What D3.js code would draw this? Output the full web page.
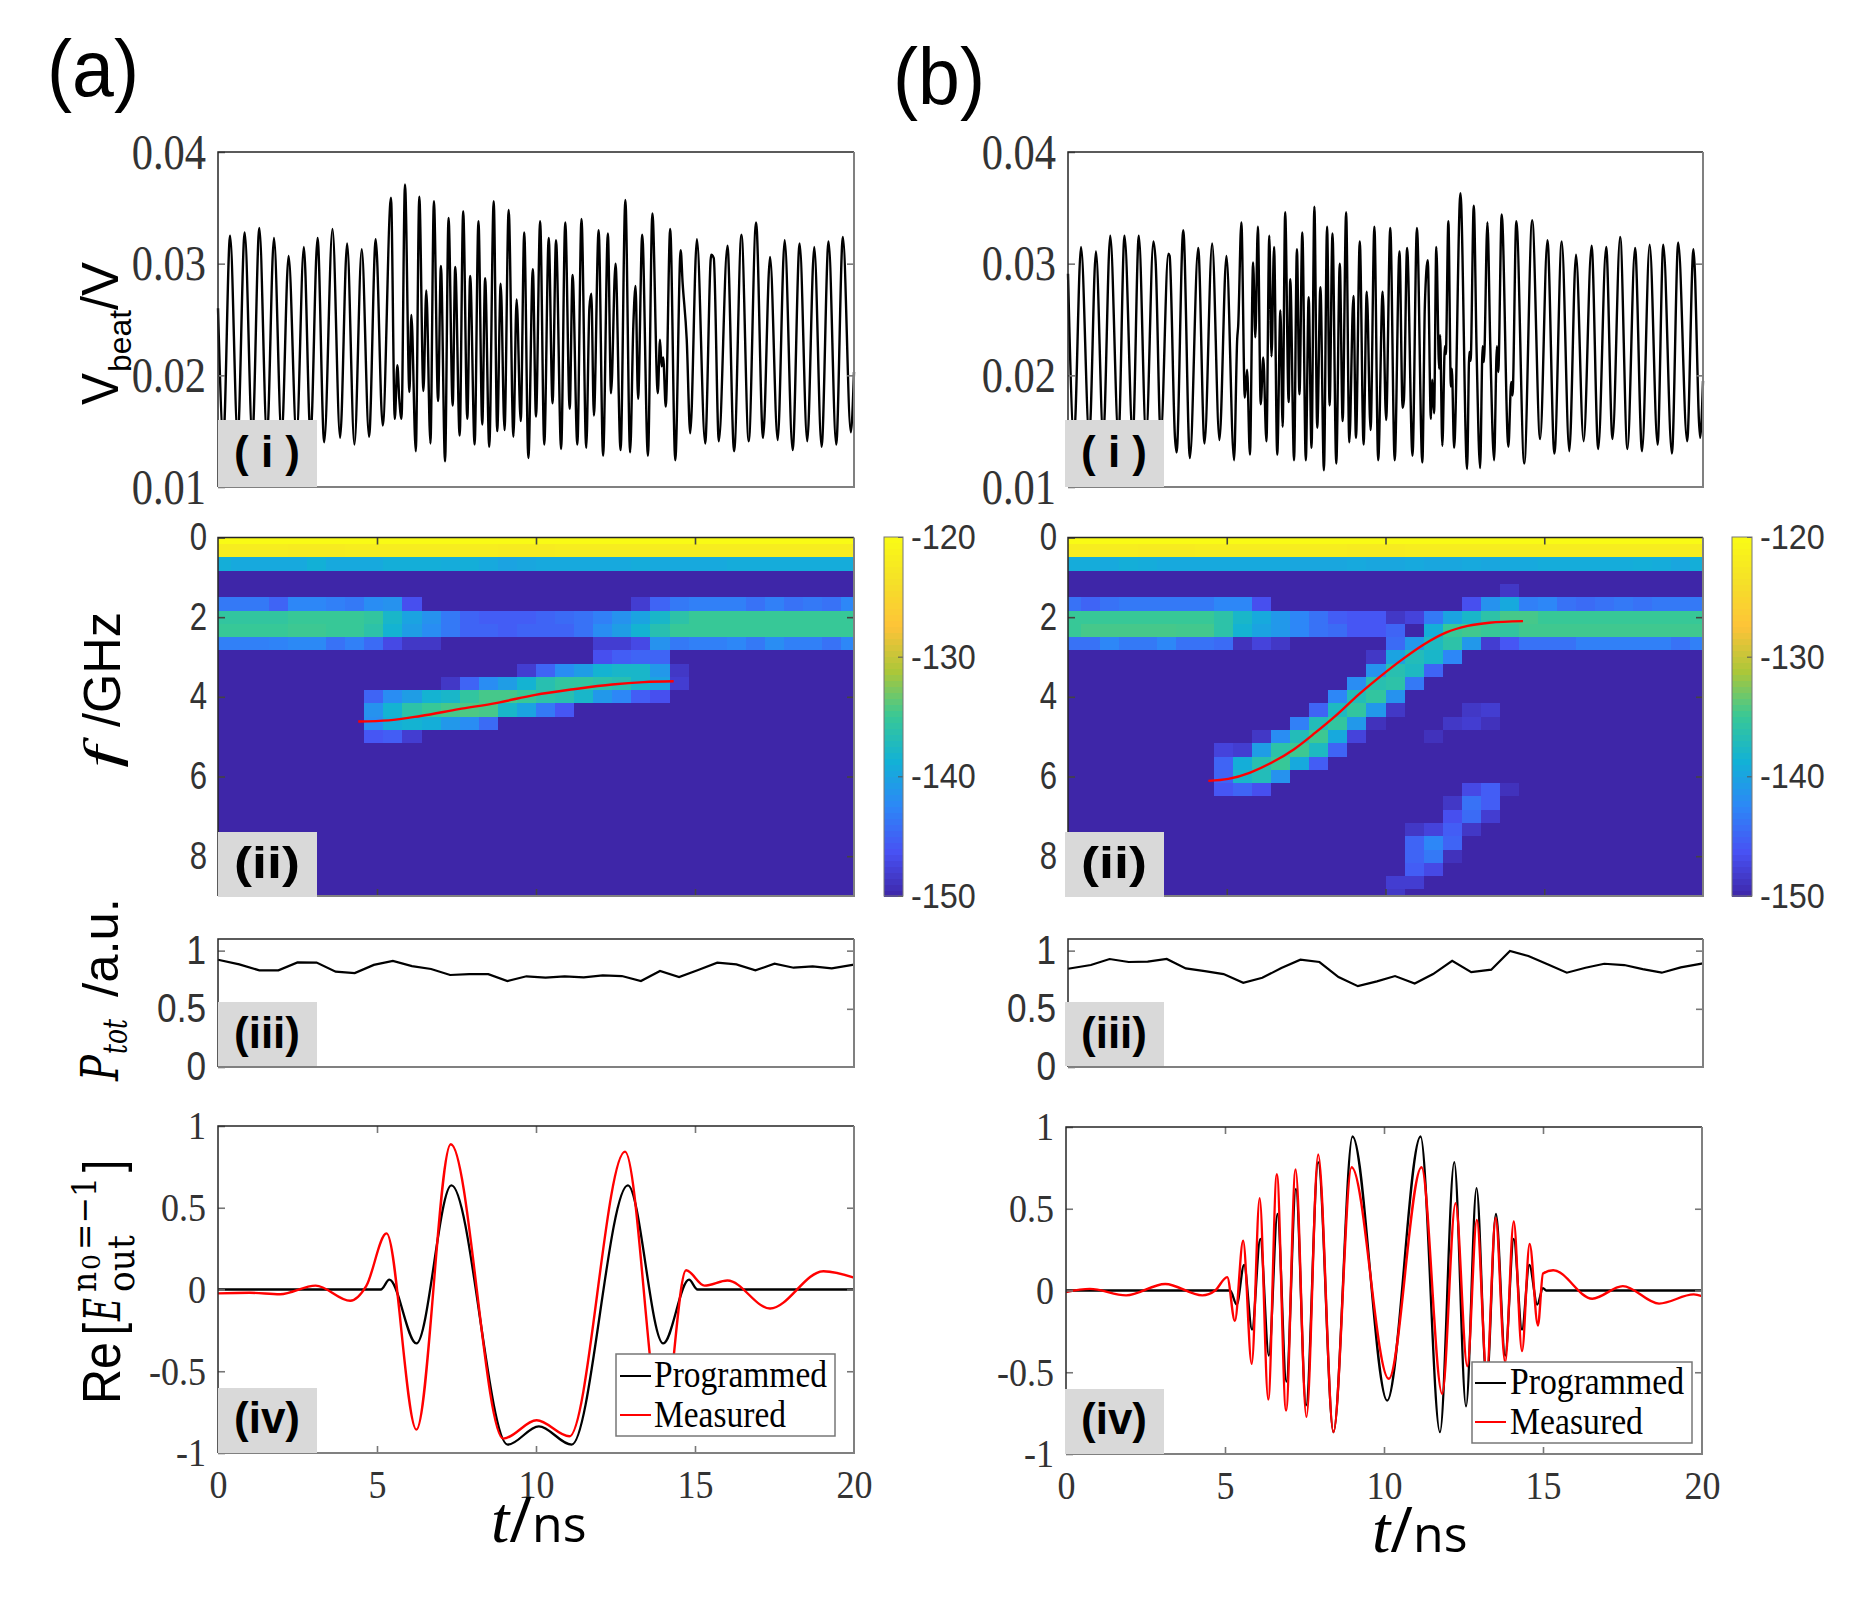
<!DOCTYPE html>
<html>
<head>
<meta charset="utf-8">
<script src="https://cdn.jsdelivr.net/npm/d3@7"></script>
<style>
  html, body { margin: 0; padding: 0; background: #fff; }
  svg { display: block; }
</style>
</head>
<body>
<svg id="chart" width="1853" height="1603"></svg>
<script>
// (i) beat signal, turning points: [t in ns, V in mV]
const beatA = [[0,26.0],[.17,14.5],[.38,32.5],[.62,14.5],[.84,32.8],[1.08,14.5],[1.30,33.2],[1.54,14.5],[1.76,32.3],[2.00,14.5],[2.22,30.7],[2.47,14.5],[2.70,31.5],[2.91,14.5],[3.13,32.3],[3.34,14.0],[3.60,33.1],[3.84,14.4],[4.06,31.8],[4.29,13.8],[4.52,31.3],[4.75,14.5],[4.96,32.2],[5.18,15.5],[5.44,35.9],[5.56,16.1],[5.64,20.9],[5.70,17.9],[5.77,16.1],[5.88,37.1],[6.02,18.5],[6.08,25.4],[6.22,13.2],[6.33,36.0],[6.46,18.6],[6.55,27.6],[6.68,13.9],[6.79,35.6],[6.92,17.7],[7.01,29.8],[7.14,12.3],[7.25,34.1],[7.38,17.3],[7.46,29.7],[7.60,14.6],[7.71,34.7],[7.84,16.1],[7.93,28.9],[8.07,13.8],[8.19,33.8],[8.31,15.6],[8.40,28.7],[8.53,13.6],[8.67,35.6],[8.78,15.0],[8.89,28.2],[9.01,15.1],[9.14,34.8],[9.29,14.5],[9.39,26.8],[9.52,15.9],[9.63,32.8],[9.76,12.6],[9.90,29.5],[10.0,16.3],[10.13,33.8],[10.26,13.8],[10.40,32.3],[10.52,17.5],[10.63,32.1],[10.79,13.4],[10.92,33.7],[11.06,17.0],[11.15,29.0],[11.30,13.8],[11.43,34.0],[11.58,13.5],[11.68,26.1],[11.74,27.3],[11.82,16.4],[11.97,33.0],[12.11,12.8],[12.26,32.7],[12.36,18.4],[12.50,30.0],[12.66,13.3],[12.81,35.7],[12.96,13.1],[13.06,24.4],[13.13,28.0],[13.21,17.9],[13.34,32.6],[13.52,12.8],[13.66,34.5],[13.83,18.4],[13.90,23.2],[13.95,20.8],[14.0,21.6],[14.08,17.2],[14.22,33.1],[14.38,12.4],[14.55,31.2],[14.61,28.3],[14.74,23.2],[14.85,14.8],[15.06,32.2],[15.32,13.9],[15.51,30.8],[15.59,30.5],[15.75,14.1],[16.02,31.6],[16.23,13.2],[16.46,32.6],[16.69,14.1],[16.92,33.7],[17.14,14.4],[17.36,30.6],[17.60,14.2],[17.82,32.1],[18.07,13.3],[18.29,31.8],[18.53,14.1],[18.75,31.5],[18.98,13.6],[19.20,32.0],[19.44,13.8],[19.65,32.4],[19.90,14.9],[20,20.3]];
const beatB = [[0,29.1],[.19,14.5],[.41,31.5],[.67,14.5],[.88,31.1],[1.11,14.5],[1.33,32.5],[1.59,14.5],[1.78,32.5],[2.04,14.5],[2.23,32.5],[2.46,14.5],[2.69,32.0],[2.76,30.2],[2.92,14.5],[3.16,30.9],[3.20,30.7],[3.37,14.4],[3.42,13.1],[3.63,33.0],[3.84,12.6],[4.10,31.4],[4.30,13.9],[4.54,31.8],[4.77,14.2],[4.99,30.7],[5.23,12.4],[5.33,23.3],[5.36,24.4],[5.46,33.7],[5.57,18.0],[5.64,20.5],[5.73,12.9],[5.83,30.1],[5.90,23.4],[5.98,33.3],[6.07,17.4],[6.15,21.6],[6.25,14.1],[6.34,32.5],[6.41,21.7],[6.49,31.5],[6.59,12.9],[6.69,25.8],[6.76,15.4],[6.84,34.6],[6.95,17.6],[7.00,28.6],[7.12,12.4],[7.21,31.3],[7.29,18.3],[7.38,32.8],[7.49,12.4],[7.58,27.0],[7.67,13.5],[7.76,35.1],[7.85,15.3],[7.95,27.9],[8.06,11.5],[8.16,33.3],[8.24,17.3],[8.33,32.7],[8.45,12.1],[8.56,30.0],[8.65,15.9],[8.76,34.6],[8.86,14.0],[8.99,27.1],[9.07,14.4],[9.19,32.0],[9.31,13.8],[9.41,27.5],[9.53,15.1],[9.65,33.3],[9.77,12.4],[9.91,27.5],[10.02,16.0],[10.15,33.2],[10.29,12.4],[10.44,31.1],[10.54,17.1],[10.58,17.8],[10.68,31.4],[10.85,12.8],[10.99,33.2],[11.16,12.2],[11.24,26.3],[11.33,30.3],[11.43,16.1],[11.47,19.6],[11.53,16.6],[11.60,31.5],[11.69,20.6],[11.72,23.6],[11.79,13.7],[11.87,22.6],[11.90,21.9],[11.98,33.8],[12.06,19.0],[12.09,20.6],[12.16,13.5],[12.36,36.3],[12.57,11.6],[12.64,22.1],[12.68,21.3],[12.78,35.2],[12.87,22.1],[12.98,11.7],[13.06,22.6],[13.10,21.2],[13.21,33.7],[13.30,22.7],[13.42,12.4],[13.51,22.6],[13.55,20.3],[13.66,34.4],[13.87,13.6],[13.96,19.4],[14.0,18.2],[14.12,33.8],[14.37,12.1],[14.62,33.9],[14.87,14.3],[15.10,32.1],[15.32,13.0],[15.55,32.0],[15.79,13.2],[16.0,30.8],[16.24,14.1],[16.49,31.6],[16.70,13.4],[16.95,31.5],[17.15,14.3],[17.39,32.4],[17.62,13.4],[17.86,31.4],[18.08,13.2],[18.32,31.7],[18.57,13.8],[18.75,31.7],[19.02,13.0],[19.22,31.9],[19.50,14.1],[19.70,31.3],[19.91,14.4],[20,19.5]];

// (ii) spectrogram, cell edges and the cells above the -150 floor: [row, first column, dB values]
const timeEdges = [0,.4,1,1.6,2.2,2.8,3.4,4,4.6,5.2,5.8,6.4,7,7.6,8.2,8.8,9.4,10,10.6,11.2,11.8,12.4,13,13.6,14.2,14.8,15.4,16,16.6,17.2,17.8,18.4,19,19.6,20];
const freqEdges = [0,.167,.5,.833,1.167,1.5,1.833,2.167,2.5,2.833,3.167,3.5,3.833,4.167,4.5,4.833,5.167,5.5,5.833,6.167,6.5,6.833,7.167,7.5,7.833,8.167,8.5,8.833,9];
const topRow = [-120,-120,-120,-120,-120,-120,-120,-120,-120,-120,-120,-120,-120,-120,-120,-120,-120,-120,-120,-120,-120,-120,-120,-120,-120,-120,-120,-120,-120,-120,-120,-120,-120,-120];
const yellowRow = [-122,-122,-122,-122,-122.2,-122.2,-122.2,-122,-122,-122,-122,-122,-122,-122,-122,-122.2,-122.2,-122.2,-122,-122,-122,-122,-122,-122,-122,-122,-122,-122,-122,-122,-122,-122,-122,-122];
const tealRowA = [-139,-139.5,-139.5,-139.5,-139.5,-138.8,-139.5,-139.5,-139.5,-139,-139,-139,-139.2,-139,-139.5,-140,-139.7,-139.5,-139.5,-139.5,-139.5,-139.5,-139.2,-139.5,-139.5,-139.5,-139.5,-139.2,-139.2,-139.2,-139.2,-139.2,-139.2,-139.2];
const tealRowB = [-139.2,-139.2,-139.5,-139,-139.2,-139.5,-139.5,-139.5,-139.5,-139.5,-139.5,-139.5,-139.7,-139.7,-139.7,-139.5,-139.7,-139.7,-139.5,-139.7,-139.7,-139.5,-139.7,-139.5,-139.5,-139.2,-139.2,-139.2,-139.2,-139.2,-139,-139.2,-139.7,-139];
const cellsA = [
  [5,0,[-143.5,-143.5,-143.5,-145,-142.5,-142.5,-143,-143.5,-142,-141.5,-146.5]],
  [5,22,[-148,-145,-143.5,-143,-143,-143,-144,-143,-144,-143.5,-144,-142.5]],
  [6,0,[-135.5,-135.5,-135.5,-135.5,-135,-135,-135,-135,-135.5,-138,-140,-141.5,-143.5,-145,-145.5,-145.5,-145.5,-145,-144.5,-144,-143,-141.5,-140,-138,-136,-135,-135,-135,-135,-135,-135,-135,-135,-135]],
  [7,0,[-135,-135,-135,-135,-134.8,-134.8,-135,-135,-136,-138.5,-140.5,-142,-143.5,-145,-145,-145.5,-145,-145,-145,-144,-142,-140.5,-138.5,-136.5,-135,-135,-135,-135,-135,-135,-135,-135,-135,-135]],
  [8,0,[-143,-143,-143,-142.8,-142.3,-142.3,-144,-143,-144.5,-147,-148.5,-148.5]],
  [8,20,[-148,-148,-147,-141.5,-143.5,-143,-143,-142.5,-143.5,-142,-143,-143,-144,-142.5]],
  [9,20,[-146.5,-145.5,-145,-145]],
  [10,16,[-148,-145,-142,-140.5,-138.5,-138,-138,-141,-148.5]],
  [11,12,[-148.5,-145,-142,-140.5,-138.5,-136.5,-135.5,-135.5,-136,-136.5,-138,-140,-148]],
  [12,8,[-145,-142,-140.5,-138.5,-138,-135.5,-134.5,-134.5,-135,-136,-136.5,-138,-141,-142.5,-145.5,-146.5]],
  [13,8,[-141.5,-138.5,-136,-135,-134.5,-134.3,-134.5,-138,-140,-143.5,-146]],
  [14,8,[-142,-139,-138.5,-139,-141,-142,-144.5]],
  [15,8,[-146,-145.5,-148]]
];
const cellsB = [
  [4,23,[-148.5]],
  [5,0,[-144,-145,-144,-143.5,-143.5,-143.5,-143.5,-143.5,-142.5,-142.5,-146.5]],
  [5,21,[-146.5,-141.5,-139.5,-143,-142.5,-144,-144.5,-144,-143.5,-144,-143.5,-143.5,-143.5]],
  [6,0,[-135,-135,-135,-135,-135,-135,-135,-135,-136,-138,-139.5,-141,-142.5,-144,-145.5,-146,-146,-148.5,-147.5,-143.5,-140,-138,-136,-134.5,-134.5,-135,-135,-135,-135,-135,-135,-135,-135,-135]],
  [7,0,[-135,-134.5,-134.5,-134.5,-134.5,-134.5,-134.6,-134.6,-136,-138.5,-140,-141,-142.5,-144,-144.5,-146,-146,-145,-150,-139,-135,-134.7,-135,-135.5,-134.7,-134.7,-134.7,-134.7,-134.7,-134.7,-134.7,-134.7,-134.7,-134.7]],
  [8,0,[-144,-144,-142.5,-143.5,-143.5,-142.5,-144,-144,-144.5,-149,-147.5,-148.5]],
  [8,17,[-144.5,-141,-137.5,-136,-141,-148,-146,-144,-144,-144,-143,-143,-143,-143,-143,-144,-143]],
  [9,16,[-148.5,-140,-137,-138,-142.5]],
  [10,16,[-141.5,-136.5,-137.5,-145]],
  [11,15,[-142,-136.5,-136,-143.5]],
  [12,14,[-142.5,-137,-135.5,-141.5]],
  [13,13,[-145,-137.5,-135.5,-141,-148.5]],
  [13,21,[-148.5,-148]],
  [14,12,[-143,-137,-135.5,-141,-149]],
  [14,20,[-148.5,-148,-149]],
  [15,10,[-148.5,-142,-137,-134.8,-139.5,-147.5]],
  [15,19,[-149]],
  [16,8,[-147.5,-148,-140.5,-136,-134.8,-137.5,-145]],
  [17,8,[-145,-139,-136.5,-135,-139.5,-145.5]],
  [18,8,[-145,-138,-137,-141.5]],
  [19,8,[-146,-145,-146.5]],
  [19,21,[-147,-145.5,-149]],
  [20,20,[-148.5,-144,-145.5]],
  [21,20,[-146.5,-144.5,-148]],
  [22,18,[-148.5,-147.5,-145.5,-148.5]],
  [23,18,[-145,-142.5,-145]],
  [24,18,[-145,-143.5,-149]],
  [25,18,[-145.5,-147]],
  [26,17,[-148,-148]],
  [27,17,[-148.5]]
];
// red chirp over the spectrogram: [t, GHz]
const chirpA = [[4.41,4.62],[5.37,4.59],[6.37,4.48],[7.57,4.31],[8.78,4.15],[9.98,3.95],[11.18,3.81],[12.39,3.69],[13.39,3.63],[14.33,3.61]];
const chirpB = [[4.42,6.11],[5.05,6.06],[5.74,5.90],[6.42,5.65],[7.11,5.32],[7.79,4.90],[8.48,4.44],[9.16,3.94],[9.85,3.48],[10.53,3.06],[11.22,2.68],[11.90,2.39],[12.59,2.22],[13.27,2.14],[14.33,2.10]];

// (iii) total power
const powerA = [[0,.925],[.67,.885],[1.3,.833],[1.9,.833],[2.5,.902],[3.1,.90],[3.7,.822],[4.3,.81],[4.9,.88],[5.5,.914],[6.1,.87],[6.7,.845],[7.3,.793],[7.9,.80],[8.5,.80],[9.1,.741],[9.7,.782],[10.3,.77],[10.9,.782],[11.5,.773],[12.1,.79],[12.7,.784],[13.3,.741],[13.9,.828],[14.5,.776],[15.1,.836],[15.7,.90],[16.3,.885],[16.9,.833],[17.5,.89],[18.1,.856],[18.7,.868],[19.3,.85],[20,.882]];
const powerB = [[0,.847],[.72,.879],[1.31,.931],[1.91,.905],[2.51,.908],[3.11,.931],[3.71,.85],[4.31,.827],[4.90,.801],[5.52,.726],[6.12,.769],[6.72,.853],[7.32,.925],[7.92,.905],[8.52,.775],[9.13,.697],[9.73,.738],[10.30,.784],[10.92,.72],[11.5,.801],[12.1,.916],[12.7,.818],[13.33,.839],[13.92,1.0],[14.5,.957],[15.14,.882],[15.71,.813],[16.3,.856],[16.89,.89],[17.52,.879],[18.1,.844],[18.7,.813],[19.3,.859],[20,.893]];

// (iv) programmed and measured field
const programmedA = [[0,0],[5.12,0],[5.39,.06],[6.24,-.33],[7.34,.637],[9.11,-.949],[10.09,-.837],[11.12,-.949],[12.89,.637],[14.0,-.33],[14.81,.06],[15.08,0],[20,0]];
const measuredA = [[0,-.024],[1.0,-.02],[1.95,-.029],[3.07,.024],[4.16,-.069],[4.66,.02],[5.30,.343],[6.24,-.857],[7.32,.888],[8.97,-.912],[10.02,-.80],[11.05,-.898],[12.80,.843],[13.98,-.86],[14.72,.118],[15.3,.024],[16.02,.055],[17.36,-.116],[19.04,.112],[20,.073]];
const programmedB = [[0,0],[5.16,0],[5.37,-.086],[5.60,.157],[5.85,-.239],[6.11,.316],[6.38,-.398],[6.65,.469],[6.93,-.557],[7.23,.622],[7.55,-.703],[7.93,.785],[8.41,-.866],[9.01,.942],[10.10,-.673],[11.15,.942],[11.76,-.866],[12.21,.785],[12.58,-.709],[12.91,.626],[13.23,-.56],[13.52,.469],[13.81,-.398],[14.08,.316],[14.34,-.239],[14.57,.157],[14.82,-.086],[15.0,.015],[15.1,0],[20,0]];
const measuredB = [[0,-.01],[.75,.01],[1.89,-.03],[3.12,.04],[4.29,-.03],[4.69,0],[5.07,.082],[5.31,-.186],[5.57,.304],[5.84,-.449],[6.09,.565],[6.36,-.667],[6.63,.711],[6.92,-.734],[7.22,.74],[7.56,-.773],[7.93,.832],[8.41,-.866],[8.98,.754],[10.15,-.54],[11.18,.754],[11.83,-.632],[12.25,.534],[12.62,-.463],[12.92,.432],[13.23,-.51],[13.51,.444],[13.81,-.438],[14.08,.422],[14.34,-.371],[14.58,.285],[14.84,-.214],[15.0,.104],[15.32,.124],[16.55,-.05],[17.51,.027],[18.65,-.08],[19.74,-.024],[20,-.035]];

const parulaDb = [-150,-146.25,-142.5,-138.75,-135,-131.25,-127.5,-123.75,-120];
const parulaHex = ['#3e26a8','#4852f4','#2d87f7','#12b1d6','#37c897','#abc739','#fec338','#f5e028','#f9fb15'];
const serif = '"Liberation Serif", serif';
const sans = '"Liberation Sans", sans-serif';
const open = '"Open Sans", sans-serif';
const dejaSerif = '"DejaVu Serif", serif';

const svg = d3.select('#chart');
const colour = d3.scaleLinear().domain(parulaDb).range(parulaHex).clamp(true);
const curve = d3.curveMonotoneX;

// inward ticks on both sides, dark top/left and grey right/bottom edges as in the figure
function frame(g, x, y, opt) {
    const [x0, x1] = x.range();
    const [yb, yt] = y.range();
    const left = d3.axisLeft(y).tickValues(opt.yTicks).tickSize(-7).tickPadding(opt.pad)
        .tickFormat(opt.fmt || (d => String(d)));
    const right = d3.axisRight(y).tickValues(opt.yInner || opt.yTicks).tickSize(-7).tickFormat('');
    const l = g.append('g').attr('transform', `translate(${x0},0)`).call(left);
    g.append('g').attr('transform', `translate(${x1},0)`).call(right).select('.domain').remove();
    l.select('.domain').remove();
    l.selectAll('text')
        .attr('x', -opt.pad / opt.sx)
        .attr('transform', `scale(${opt.sx},1)`)
        .attr('font-family', opt.font).attr('font-size', opt.size).attr('fill', '#333');
    if (opt.xTicks) {
        const top = d3.axisTop(x).tickValues(opt.xTicks).tickSize(-7).tickFormat('');
        const bottom = d3.axisBottom(x).tickValues(opt.xTicks).tickSize(-7).tickFormat('');
        g.append('g').attr('transform', `translate(0,${yt})`).call(top).select('.domain').remove();
        g.append('g').attr('transform', `translate(0,${yb})`).call(bottom).select('.domain').remove();
    }
    g.selectAll('.tick line').attr('stroke', opt.tickColour || '#777').attr('stroke-width', 1.6);
    g.append('path').attr('d', `M${x0},${yb}V${yt}H${x1}`).attr('fill', 'none').attr('stroke', '#262626').attr('stroke-width', 1.5);
    g.append('path').attr('d', `M${x0},${yb}H${x1}V${yt}`).attr('fill', 'none').attr('stroke', '#808080').attr('stroke-width', 2);
}

function drawLine(g, data, x, y, stroke, width) {
    const line = d3.line().x(d => x(d[0])).y(d => y(d[1])).curve(curve);
    g.append('path').datum(data).attr('d', line).attr('fill', 'none')
        .attr('stroke', stroke).attr('stroke-width', width).attr('stroke-linejoin', 'round');
}

function tag(g, box, label, cx, baseline) {
    g.append('rect').attr('x', box[0]).attr('y', box[1]).attr('width', box[2] - box[0]).attr('height', box[3] - box[1]).attr('fill', '#d9d9d9');
    g.append('text').attr('x', cx).attr('y', baseline).attr('text-anchor', 'middle')
        .attr('font-family', sans).attr('font-weight', 'bold').attr('font-size', 44)
        .attr('textLength', 66).attr('lengthAdjust', 'spacingAndGlyphs').attr('xml:space', 'preserve')
        .text(label);
}

// one piece of a rotated axis title, running upward from yStart over len pixels
function vText(base, yStart, len, str, font, size, style, weight) {
    svg.append('text').attr('transform', `translate(${base},${yStart}) rotate(-90)`)
        .attr('font-family', font).attr('font-size', size).attr('fill', '#000')
        .attr('font-style', style || 'normal').attr('font-weight', weight || 'normal')
        .attr('textLength', len).attr('lengthAdjust', 'spacingAndGlyphs').text(str);
}
function hText(x, y, len, str, font, size, style, fill) {
    svg.append('text').attr('x', x).attr('y', y)
        .attr('font-family', font).attr('font-size', size).attr('fill', fill || '#000')
        .attr('font-style', style || 'normal')
        .attr('textLength', len).attr('lengthAdjust', 'spacingAndGlyphs').text(str);
}

function column(spec) {
    const g = svg.append('g');
    const tx = d3.scaleLinear().domain([0, 20]).range([spec.x0, spec.x1]);
    const tx4 = d3.scaleLinear().domain([0, 20]).range([spec.x04, spec.x14]);

    // (i)
    const yBeat = d3.scaleLinear().domain([10, 40]).range([487, 152]);
    const gi = g.append('g');
    drawLine(gi, spec.beat, tx, yBeat, '#000', 2.4);
    frame(gi, tx, yBeat, { yTicks: [10, 20, 30, 40], yInner: [20, 30], pad: 12, sx: .85, font: serif, size: 50,
        fmt: d => d3.format('.2f')(d / 1000) });
    tag(gi, [spec.boxX, 420, spec.boxX + 99, 487], '( i )', spec.tagX, 467);

    // (ii)
    const yFreq = d3.scaleLinear().domain([0, 9]).range([537.5, 896]);
    const gii = g.append('g');
    const rows = [[0, 0, topRow], [1, 0, yellowRow], [2, 0, spec.teal]].concat(spec.cells);
    const cells = [];
    d3.range(28).forEach(r => d3.range(34).forEach(c => cells.push({ r, c, v: -150 })));
    rows.forEach(([r, start, vals]) => vals.forEach((v, i) => { cells[r * 34 + start + i].v = v; }));
    gii.append('g').attr('shape-rendering', 'crispEdges').selectAll('rect').data(cells).join('rect')
        .attr('x', d => tx(timeEdges[d.c]))
        .attr('width', d => tx(timeEdges[d.c + 1]) - tx(timeEdges[d.c]) + .5)
        .attr('y', d => yFreq(freqEdges[d.r]))
        .attr('height', d => yFreq(freqEdges[d.r + 1]) - yFreq(freqEdges[d.r]) + .5)
        .attr('fill', d => colour(d.v));
    frame(gii, tx, yFreq.copy().range([896, 537.5]).domain([9, 0]), { yTicks: [0, 2, 4, 6, 8], yInner: [2, 4, 6, 8], xTicks: [5, 10, 15], pad: 11, sx: .82, font: sans, size: 38, tickColour: '#444' });
    drawLine(gii, spec.chirp, tx, yFreq, '#f00', 2.4);
    tag(gii, [spec.boxX, 832, spec.boxX + 99, 897], '(ii)', spec.tagX, 878);

    // colour bar
    const yBar = d3.scaleLinear().domain([-150, -120]).range([896, 537]);
    const gc = g.append('g');
    gc.append('g').attr('shape-rendering', 'crispEdges').selectAll('rect').data(d3.range(-150, -120, .5)).join('rect')
        .attr('x', spec.bar).attr('width', spec.barW)
        .attr('y', d => yBar(d + .5)).attr('height', d => yBar(d) - yBar(d + .5) + .5)
        .attr('fill', d => colour(d + .25));
    const barAxis = d3.axisRight(yBar).tickValues([-150, -140, -130, -120]).tickSize(-5).tickPadding(8).tickFormat(d => String(d));
    const gb = gc.append('g').attr('transform', `translate(${spec.bar + spec.barW},0)`).call(barAxis);
    gb.select('.domain').remove();
    gb.selectAll('.tick line').attr('stroke', '#555');
    gb.selectAll('text').attr('x', 8 / .9).attr('transform', 'scale(.9,1)').attr('font-family', sans).attr('font-size', 36).attr('fill', '#333');
    gc.append('rect').attr('x', spec.bar).attr('y', 537).attr('width', spec.barW).attr('height', 359)
        .attr('fill', 'none').attr('stroke', '#777').attr('stroke-width', 1);

    // (iii)
    const yPower = d3.scaleLinear().domain([0, 1]).range([1067, 951]);
    const giii = g.append('g');
    const powerLine = d3.line().x(d => tx(d[0])).y(d => yPower(d[1]));
    giii.append('path').datum(spec.power).attr('d', powerLine).attr('fill', 'none').attr('stroke', '#000').attr('stroke-width', 2.2);
    const yPowerFull = d3.scaleLinear().domain([0, 1.1]).range([1067, 939]);
    frame(giii, tx, yPowerFull, { yTicks: [0, .5, 1], yInner: [.5, 1], pad: 12, sx: .88, font: sans, size: 40 });
    tag(giii, [spec.boxX, 1002, spec.boxX + 99, 1066], '(iii)', spec.tagX, 1048);

    // (iv)
    const yField = d3.scaleLinear().domain([-1, 1]).range([spec.yb, spec.yt]);
    const giv = g.append('g');
    drawLine(giv, spec.programmed, tx4, yField, '#000', 2.3);
    drawLine(giv, spec.measured, tx4, yField, '#f00', 2.4);
    frame(giv, tx4, yField, { yTicks: [-1, -.5, 0, .5, 1], yInner: [-.5, 0, .5], xTicks: [5, 10, 15], pad: 12, sx: .9, font: serif, size: 40 });
    const xLabels = d3.axisBottom(tx4).tickValues([0, 5, 10, 15, 20]).tickSize(0).tickPadding(0).tickFormat(d => String(d));
    const gx = giv.append('g').attr('transform', `translate(0,${spec.yb})`).call(xLabels);
    gx.select('.domain').remove();
    gx.selectAll('text').attr('y', 17).attr('transform', 'scale(.9,1)').attr('font-family', serif).attr('font-size', 40).attr('fill', '#333');
    tag(giv, [spec.boxX, spec.yb - 65, spec.boxX + 99, spec.yb], '(iv)', spec.tagX, spec.yb - 20);

    // legend
    const lg = spec.legend;
    const gl = g.append('g');
    gl.append('rect').attr('x', lg.x0).attr('y', lg.y0).attr('width', lg.x1 - lg.x0).attr('height', lg.y1 - lg.y0)
        .attr('fill', '#fff').attr('stroke', '#777').attr('stroke-width', 1.5);
    gl.append('path').attr('d', `M${lg.line0},${lg.y1line}H${lg.line1}`).attr('stroke', '#000').attr('stroke-width', 2);
    gl.append('path').attr('d', `M${lg.line0},${lg.y2line}H${lg.line1}`).attr('stroke', '#f00').attr('stroke-width', 2);
    hText(lg.text, lg.base1, lg.len1, 'Programmed', serif, 38);
    hText(lg.text, lg.base2, lg.len2, 'Measured', serif, 38);

    // time label, one text so the pieces stay together
    const tl = spec.xlabel;
    const tLabel = svg.append('text').attr('x', tl.x).attr('y', tl.y).attr('fill', '#000');
    tLabel.append('tspan').attr('font-family', serif).attr('font-style', 'italic').attr('font-size', 66).text('t');
    tLabel.append('tspan').attr('font-family', open).attr('font-size', 62).text('/');
    tLabel.append('tspan').attr('font-family', open).attr('font-size', 50).text('ns');
}

column({
    x0: 218, x1: 854, x04: 218, x14: 854, yt: 1126, yb: 1453, boxX: 218, tagX: 267,
    beat: beatA, teal: tealRowA, cells: cellsA, chirp: chirpA, power: powerA,
    programmed: programmedA, measured: measuredA, bar: 884, barW: 19,
    legend: { x0: 616, x1: 835, y0: 1354, y1: 1436, line0: 620, line1: 651, y1line: 1376, y2line: 1415, text: 654, base1: 1387, base2: 1427, len1: 173, len2: 132 },
    xlabel: { x: 491, y: 1542 }
});
column({
    x0: 1068, x1: 1703, x04: 1066, x14: 1702, yt: 1127, yb: 1454, boxX: 1065, tagX: 1114,
    beat: beatB, teal: tealRowB, cells: cellsB, chirp: chirpB, power: powerB,
    programmed: programmedB, measured: measuredB, bar: 1732, barW: 20,
    legend: { x0: 1472, x1: 1692, y0: 1362, y1: 1443, line0: 1475, line1: 1506, y1line: 1383, y2line: 1422, text: 1510, base1: 1394, base2: 1434, len1: 174, len2: 133 },
    xlabel: { x: 1372, y: 1552 }
});

// panel letters
hText(47, 96, 92, '(a)', sans, 80);
hText(893, 104, 92, '(b)', sans, 80);

// rotated axis titles, pieced together so each part sits where it does in the figure
vText(118, 405, 32, 'V', sans, 52);
vText(131, 372, 62, 'beat', sans, 32);
vText(118, 310, 48, '/V', sans, 52);
vText(118, 768, 22, 'f', serif, 48, 'italic');
vText(120, 727, 115, '/GHz', sans, 52);
vText(118, 1081, 26, 'P', dejaSerif, 52, 'italic');
vText(127, 1054, 35, 'tot', dejaSerif, 34, 'italic');
vText(118, 997, 99, '/a.u.', sans, 50);
vText(120, 1404, 62, 'Re', sans, 54);
vText(121, 1335, 12, '[', sans, 54);
vText(120, 1321, 23, 'E', dejaSerif, 50, 'italic');
vText(134, 1292, 57, 'out', dejaSerif, 38);
vText(96, 1292, 20, 'n', dejaSerif, 34);
vText(100, 1270, 16, '0', dejaSerif, 24);
vText(96, 1250, 73, '=\u22121', dejaSerif, 34);
vText(121, 1172, 12, ']', sans, 54);
</script>
</body>
</html>
